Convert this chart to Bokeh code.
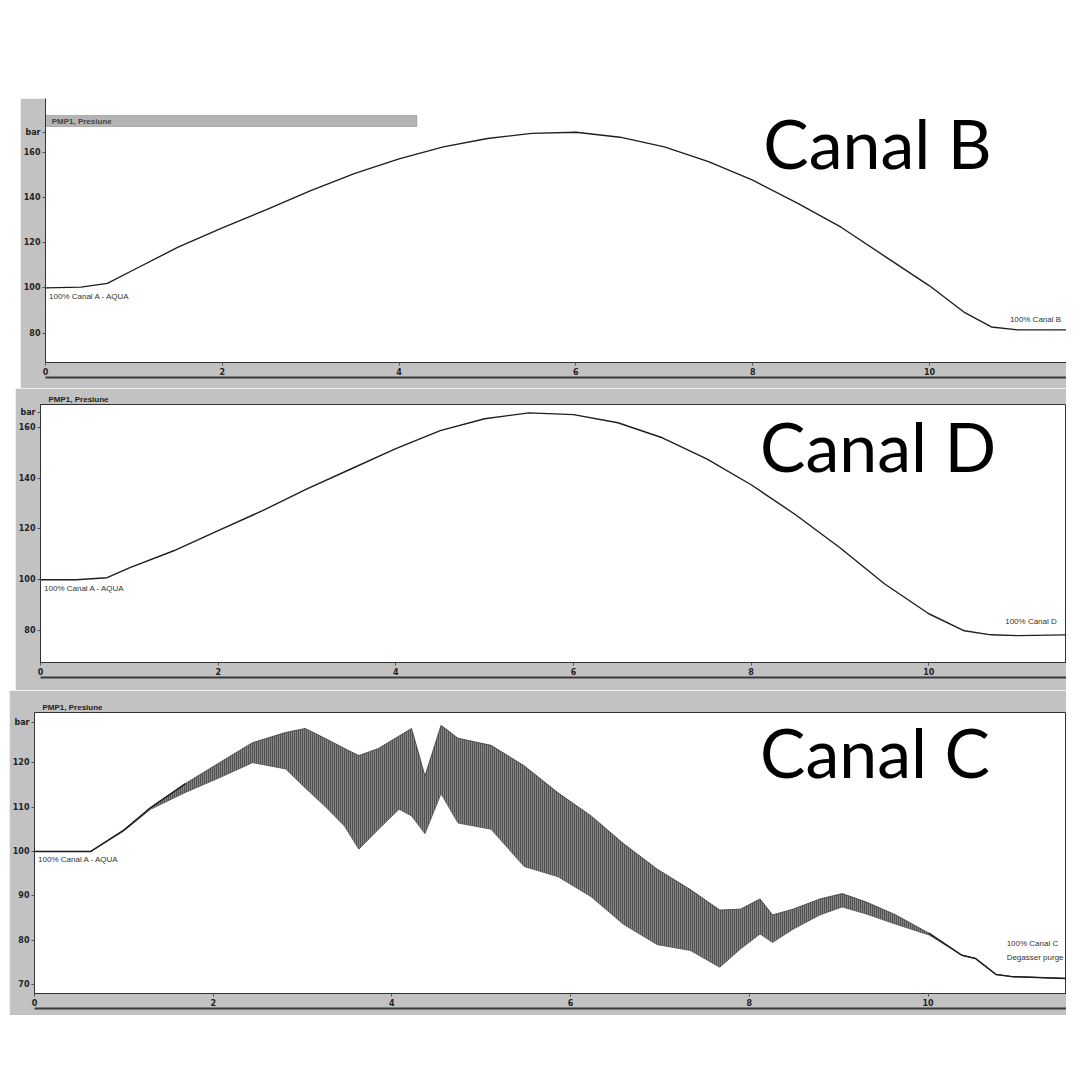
from bokeh.plotting import figure
from bokeh.layouts import column
from bokeh.models import Spacer, Label, LinearAxis, FixedTicker, Range1d, BoxAnnotation
from bokeh.embed import file_html
from bokeh.resources import INLINE
from bokeh.core.properties import value

# ---------------- data (time in min, pressure in bar) ----------------
panel_title = "PMP1, Presiune"
x_ticks = [0, 2, 4, 6, 8, 10]
y_ticks_bd = [80, 100, 120, 140, 160]
y_ticks_c = [70, 80, 90, 100, 110, 120]
unit_label = "bar"

b_time = [0, 0.4, 0.7, 1.0, 1.5, 2.0, 2.5, 3.0, 3.5, 4.0, 4.5, 5.0, 5.5, 6.0,
          6.5, 7.0, 7.5, 8.0, 8.5, 9.0, 9.5, 10.0, 10.4, 10.7, 11.0, 11.55]
b_pressure = [100, 100.3, 102, 108, 118, 126.5, 134.6, 143, 150.6, 157, 162.3,
              166, 168.3, 168.8, 166.6, 162.3, 155.8, 147.6, 137.6, 126.8,
              113.8, 100.9, 89, 82.7, 81.4, 81.4]

d_time = [0, 0.4, 0.75, 1.0, 1.5, 2.0, 2.5, 3.0, 3.5, 4.0, 4.5, 5.0, 5.5, 6.0,
          6.5, 7.0, 7.5, 8.0, 8.5, 9.0, 9.5, 10.0, 10.4, 10.7, 11.0, 11.55]
d_pressure = [100, 100, 100.8, 104.7, 111.4, 119.3, 127.2, 135.8, 143.7, 151.6,
              158.7, 163.4, 165.7, 165, 161.8, 155.9, 147.6, 137.4, 125.6,
              112.6, 98.4, 86.6, 79.9, 78.3, 78, 78.3]

c_time = [0, 0.63, 1.0, 1.30, 1.69, 2.07, 2.44, 2.81, 3.03, 3.25, 3.47, 3.63,
          3.85, 4.08, 4.22, 4.37, 4.55, 4.74, 5.11, 5.48, 5.86, 6.23, 6.59,
          6.97, 7.34, 7.67, 7.90, 8.12, 8.26, 8.49, 8.79, 9.04, 9.31, 9.64,
          10.01, 10.38, 10.53, 10.76, 10.94, 11.55]
c_high = [100, 100, 104.8, 109.9, 115.3, 120.0, 124.5, 126.8, 127.7, 125.5,
          123.2, 121.6, 123.2, 126.0, 127.7, 117.0, 128.4, 125.5, 123.9, 119.3,
          113.2, 108.0, 101.8, 96.0, 91.4, 86.8, 87.0, 89.3, 85.7, 87.0, 89.3,
          90.5, 88.6, 85.7, 81.6, 76.6, 75.9, 72.3, 71.8, 71.4]
c_low = [100, 100, 104.6, 109.5, 113.3, 116.6, 120.0, 118.6, 114.3, 110.2,
         105.7, 100.5, 105.0, 109.5, 108.0, 104.0, 113.0, 106.4, 105.0, 96.6,
         94.3, 89.8, 83.6, 79.0, 77.7, 73.9, 78.0, 81.4, 79.5, 82.5, 85.7,
         87.5, 85.9, 83.6, 81.2, 76.6, 75.9, 72.3, 71.8, 71.4]

start_note = "100% Canal A - AQUA"

GRAY = "#c2c2c2"
INK = "#1e1e1e"


def make_panel(width, height, margin_left, y0, y1, yticks, unit_at,
               top_border, bottom_border, with_title=True):
    p = figure(width=width, height=height,
               x_range=Range1d(0, 11.55), y_range=Range1d(y0, y1),
               output_backend="svg", toolbar_location=None,
               min_border_left=22, min_border_right=0,
               min_border_top=top_border, min_border_bottom=bottom_border,
               border_fill_color=GRAY, background_fill_color="white",
               outline_line_color="#333333" if with_title else None,
               outline_line_width=1,
               title=panel_title if with_title else None)
    p.margin = (0, 0, 0, margin_left)
    if with_title:
        p.title.text_font = "Liberation Sans"
        p.title.text_font_size = "8px"
        p.title.text_font_style = "bold"
        p.title.text_color = "#222222"
        p.title.standoff = 1
        p.title.offset = 8
    p.grid.visible = False
    for ax in (p.xaxis[0], p.yaxis[0]):
        ax.major_label_text_font = "DejaVu Sans"
        ax.major_label_text_font_size = "8px"
        ax.major_label_text_font_style = "bold"
        ax.major_label_text_color = "#222222"
        ax.major_tick_out = 3
        ax.major_tick_in = 0
        ax.minor_tick_line_color = None
        ax.major_label_standoff = 2
        ax.axis_line_color = "#333333"
        ax.major_tick_line_color = "#555555"
    p.xaxis.ticker = FixedTicker(ticks=x_ticks)
    p.yaxis.ticker = FixedTicker(ticks=yticks + [unit_at])
    p.yaxis.major_label_overrides = {unit_at: unit_label}
    rail = LinearAxis(ticker=FixedTicker(ticks=[]), axis_line_color="#3a3a3a",
                      axis_line_width=2, major_tick_line_color=None,
                      minor_tick_line_color=None, major_label_text_color=None,
                      major_label_text_font_size="1px", major_tick_out=0,
                      major_label_standoff=0)
    p.add_layout(rail, "below")
    return p


p1 = make_panel(1046, 290, 20, 67, 183.7, y_ticks_bd, 168.7, 0, 26, with_title=False)
p2 = make_panel(1051, 302, 15, 67.4, 169, y_ticks_bd, 165.8, 16, 28)
p3 = make_panel(1057, 325, 9, 68, 131.3, y_ticks_c, 129.0, 22, 22)

# header strip of the first (partly cut) screen capture
p1.add_layout(BoxAnnotation(left=0, right=4.2, bottom=171.3, top=176.2,
                            fill_color="#b4b4b4", fill_alpha=1.0,
                            line_color="#444444", line_width=1, level="underlay"))
p1.text(x=[0.07], y=[173.7], text=[panel_title], text_font=value("Liberation Sans"),
        text_font_size="8px", text_font_style="bold", text_color="#444444",
        text_baseline="middle")

p1.line(b_time, b_pressure, line_color=INK, line_width=1.4)
p2.line(d_time, d_pressure, line_color=INK, line_width=1.4)

p3.varea(x=c_time, y1=c_low, y2=c_high, fill_color="#3a3a3a", fill_alpha=0.62,
         hatch_pattern="|", hatch_scale=2, hatch_weight=1,
         hatch_color="#111111", hatch_alpha=0.9)
p3.line(c_time, c_high, line_color="#3a3a3a", line_width=0.8)
p3.line(c_time, c_low, line_color="#555555", line_width=0.8)
p3.line(c_time[:5], c_high[:5], line_color=INK, line_width=1.5)
p3.line(c_time[34:], c_high[34:], line_color=INK, line_width=1.5)

note_font = value("Liberation Sans")
for p in (p1, p2, p3):
    p.text(x=[0.04], y=[100], text=[start_note], text_font=note_font,
           text_font_size="8px", text_color="#333333", text_baseline="top",
           y_offset=4)

p1.text(x=[10.91], y=[83.9], text=["100% Canal B"], text_font=note_font,
        text_font_size="8px", text_color="#333333", text_baseline="bottom")
p2.text(x=[10.86], y=[81.9], text=["100% Canal D"], text_font=note_font,
        text_font_size="8px", text_color="#333333", text_baseline="bottom")
p3.text(x=[10.88, 10.88], y=[78.3, 75.0], text=["100% Canal C", "Degasser purge"],
        text_font=note_font, text_font_size="8px", text_color="#333333",
        text_baseline="bottom")

for p, x, y, t in ((p1, 8.12, 164.4, "Canal B"), (p2, 8.10, 152.8, "Canal D"),
                   (p3, 8.12, 122.6, "Canal C")):
    p.add_layout(Label(x=x, y=y, text=t, text_font="Lato", text_font_size="68px",
                       text_color="#000000", text_baseline="alphabetic"))

layout = column(Spacer(width=10, height=98), p1, p2, p3)
open("out.html", "w").write(file_html(layout, INLINE))
